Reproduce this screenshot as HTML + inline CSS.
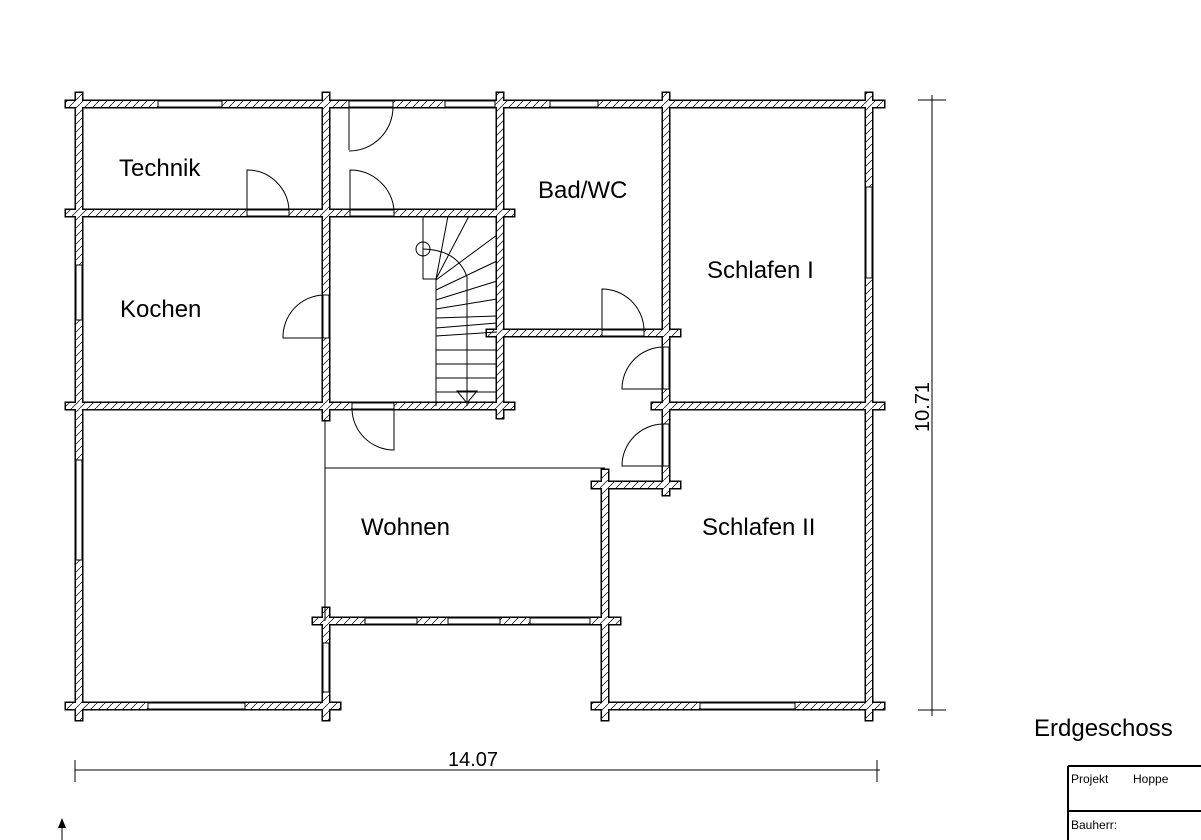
<!DOCTYPE html>
<html><head><meta charset="utf-8"><style>
html,body{margin:0;padding:0;background:#fff;}
svg{display:block;}
text{font-family:"Liberation Sans",sans-serif;fill:#000;}
</style></head><body>
<svg width="1201" height="840" viewBox="0 0 1201 840" xmlns="http://www.w3.org/2000/svg">
<defs>
<pattern id="h" width="8" height="8" patternUnits="userSpaceOnUse">
<rect width="8" height="8" fill="#fff"/>
<path d="M-2,10 L10,-2" stroke="#000" stroke-width="0.7"/>
</pattern>
</defs>
<g fill="#000" stroke="#000" stroke-width="3">
<rect x="66" y="101" width="818" height="6"/>
<rect x="66" y="210" width="448" height="6"/>
<rect x="66" y="403" width="448" height="6"/>
<rect x="652" y="403" width="232" height="6"/>
<rect x="487" y="330" width="193" height="6"/>
<rect x="592" y="482" width="88" height="6"/>
<rect x="313" y="618" width="307" height="6"/>
<rect x="66" y="703" width="274" height="6"/>
<rect x="592" y="703" width="292" height="6"/>
<rect x="76" y="93" width="6" height="627"/>
<rect x="323" y="93" width="6" height="327"/>
<rect x="323" y="608" width="6" height="112"/>
<rect x="497" y="93" width="6" height="325"/>
<rect x="663" y="93" width="6" height="402"/>
<rect x="602" y="470" width="6" height="250"/>
<rect x="866" y="93" width="6" height="627"/>
</g>
<g fill="url(#h)">
<rect x="66" y="101" width="818" height="6"/>
<rect x="66" y="210" width="448" height="6"/>
<rect x="66" y="403" width="448" height="6"/>
<rect x="652" y="403" width="232" height="6"/>
<rect x="487" y="330" width="193" height="6"/>
<rect x="592" y="482" width="88" height="6"/>
<rect x="313" y="618" width="307" height="6"/>
<rect x="66" y="703" width="274" height="6"/>
<rect x="592" y="703" width="292" height="6"/>
<rect x="76" y="93" width="6" height="627"/>
<rect x="323" y="93" width="6" height="327"/>
<rect x="323" y="608" width="6" height="112"/>
<rect x="497" y="93" width="6" height="325"/>
<rect x="663" y="93" width="6" height="402"/>
<rect x="602" y="470" width="6" height="250"/>
<rect x="866" y="93" width="6" height="627"/>
</g>
<g fill="#fff" stroke="#000" stroke-width="1">
<rect x="158" y="101" width="64" height="6"/>
<rect x="349" y="101" width="44" height="6"/>
<rect x="445" y="101" width="50" height="6"/>
<rect x="550" y="101" width="48" height="6"/>
<rect x="247" y="210" width="42" height="6"/>
<rect x="350" y="210" width="44" height="6"/>
<rect x="602" y="330" width="42" height="6"/>
<rect x="352" y="403" width="42" height="6"/>
<rect x="365" y="618" width="52" height="6"/>
<rect x="448" y="618" width="52" height="6"/>
<rect x="530" y="618" width="60" height="6"/>
<rect x="148" y="703" width="97" height="6"/>
<rect x="700" y="703" width="95" height="6"/>
<rect x="76" y="265" width="6" height="55"/>
<rect x="76" y="460" width="6" height="100"/>
<rect x="866" y="187" width="6" height="91"/>
<rect x="323" y="295" width="6" height="43"/>
<rect x="323" y="643" width="6" height="49"/>
<rect x="663" y="347" width="6" height="42"/>
<rect x="663" y="424" width="6" height="42"/>
</g>
<g fill="none" stroke="#000" stroke-width="1">
<path d="M349,107 V150 M393,107 A44,44 0 0 1 349,151"/>
<path d="M247,210 V170 A42,42 0 0 1 289,210"/>
<path d="M350,210 V170 A44,44 0 0 1 394,210"/>
<path d="M323,338 H283 A42,42 0 0 1 323,295"/>
<path d="M602,330 V289 A42,42 0 0 1 644,330"/>
<path d="M663,389 H622 A42,42 0 0 1 663,347"/>
<path d="M663,466 H622 A42,42 0 0 1 663,424"/>
<path d="M394,409 V450 A42,42 0 0 1 352,409"/>
<path d="M325,420 V621 M325,468 H605"/>
<path d="M423,216 V279 H436 V406"/>
<circle cx="423" cy="249" r="7"/>
<path d="M423,249 Q458,250 467,277 V406"/>
<path d="M436,279 L469,216 M436,280 L497,235 M436,290 L497,261 M436,300 L497,281 M436,309 L497,299 M436,318 L497,316 M436,328 L497,323 M436,336 L497,332 M436,350 H497 M436,364 H497 M436,378 H497 M436,392 H497 M448,216 L436,279"/>
<path d="M457,391 H477 L467,403 Z"/>
<path d="M932,95 V716 M918,100 H946 M918,710 H946 M75,770 H880 M75,760 V782 M877,760 V782"/>
</g>
<text x="119" y="176" font-size="24">Technik</text>
<text x="120" y="317" font-size="24">Kochen</text>
<text x="538" y="198" font-size="24">Bad/WC</text>
<text x="707" y="278" font-size="24">Schlafen I</text>
<text x="361" y="535" font-size="24">Wohnen</text>
<text x="702" y="535" font-size="24">Schlafen II</text>
<text x="448" y="766" font-size="20">14.07</text>
<text x="0" y="0" font-size="20" transform="translate(929,432) rotate(-90)">10.71</text>
<text x="1034" y="736" font-size="24">Erdgeschoss</text>
<g fill="none" stroke="#000">
<path d="M1068,766 H1201 M1068,766 V840 M1068,811 H1201" stroke-width="2"/>
<path d="M62,840 V822" stroke-width="1"/>
</g>
<path d="M58,828 L62,818 L66,828 Z" fill="#000"/>
<text x="1071" y="783" font-size="12">Projekt</text>
<text x="1133" y="783" font-size="12">Hoppe</text>
<text x="1071" y="829" font-size="12">Bauherr:</text>
</svg>
</body></html>
